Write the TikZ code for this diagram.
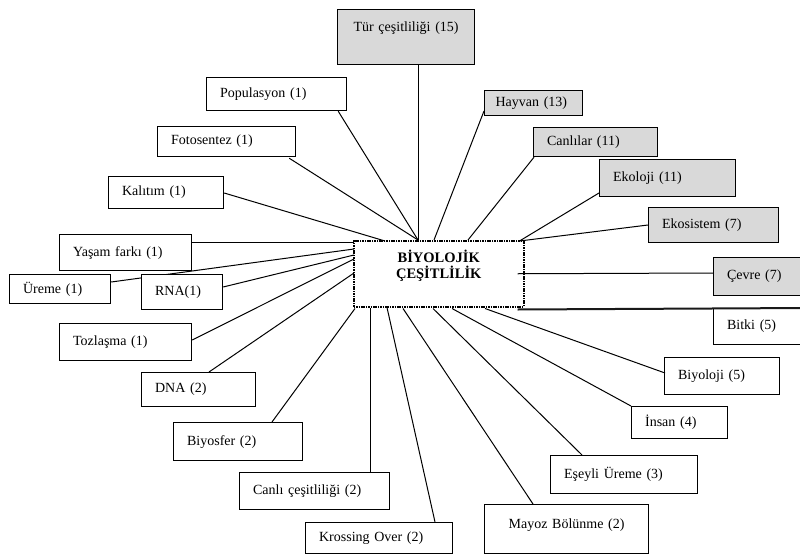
\documentclass[tikz,border=0pt]{standalone}
\usepackage{fontspec}
\setmainfont{Liberation Serif}
\usetikzlibrary{calc}
\definecolor{boxgray}{RGB}{217,217,217}
\begin{document}
\begin{tikzpicture}[x=1pt,y=-1pt,
  box/.style={draw, line width=1.2pt, fill=white, anchor=north west,
    inner xsep=13.5pt, inner ysep=0pt, align=left,
    font=\fontsize{14}{16}\selectfont},
  gbox/.style={box, fill=boxgray},
  link/.style={line width=1pt},
  hub/.style={draw, line width=1.5pt, dash pattern=on 1.6pt off 0.8pt,
    fill=white, anchor=north west, inner sep=0pt,
    minimum width=170pt, minimum height=66pt}]
\useasboundingbox (0,0) rectangle (800,554);

% central box
\node[hub] (bio) at (353,240) {};
\node[font=\fontsize{14.5}{16}\selectfont\bfseries, align=center] (biotxt)
  at ($(bio.center)+(0,-8)$) {BİYOLOJİK\\ÇEŞİTLİLİK};

% boxes
\node[gbox, align=center, inner xsep=5pt, text width=127pt,
      text height=10pt, text depth=21pt, inner ysep=12pt] (tur) at (337,9) {Tür çeşitliliği (15)};
\node[box, text width=113pt, minimum height=33pt] (pop) at (206,77) {Populasyon (1)};
\node[box, text width=111pt, minimum height=30pt] (foto) at (157,126) {Fotosentez (1)};
\node[box, text width=88pt, minimum height=32pt] (kal) at (108,176) {Kalıtım (1)};
\node[box, text width=105pt, minimum height=36pt] (yasam) at (59,234) {Yaşam farkı (1)};
\node[box, text width=74pt, minimum height=29pt] (ureme) at (9,274) {Üreme (1)};
\node[box, text width=105pt, minimum height=37pt] (toz) at (59,323) {Tozlaşma (1)};
\node[box, text width=87pt, minimum height=34pt] (dna) at (141,372) {DNA (2)};
\node[box, text width=102pt, minimum height=38pt] (biyosfer) at (173,422) {Biyosfer (2)};
\node[box, text width=123pt, minimum height=37pt] (canli) at (239,472) {Canlı çeşitliliği (2)};
\node[box, text width=120pt, minimum height=31pt] (kross) at (305,522) {Krossing Over (2)};
\node[box, align=center, inner xsep=5pt, text width=154pt,
      text height=10pt, text depth=11pt, inner ysep=14pt] (mayoz) at (484,504) {Mayoz Bölünme (2)};
\node[box, text width=120pt, minimum height=38pt] (esey) at (550,455) {Eşeyli Üreme (3)};
\node[box, text width=69pt, minimum height=32pt] (insan) at (631,406) {İnsan (4)};
\node[box, text width=88pt, minimum height=37pt] (biyoloji) at (664,357) {Biyoloji (5)};
\node[box, text width=80pt, minimum height=36pt] (bitki) at (713,308) {Bitki (5)};
\node[gbox, text width=80pt, minimum height=38pt] (cevre) at (713,257) {Çevre (7)};
\node[gbox, text width=103pt, minimum height=35pt] (ekosistem) at (648,207) {Ekosistem (7)};
\node[gbox, text width=109pt, minimum height=37pt] (ekoloji) at (599,159) {Ekoloji (11)};
\node[gbox, text width=97pt, minimum height=29pt] (canlilar) at (533,127) {Canlılar (11)};
\node[gbox, inner xsep=11pt, text width=76pt, minimum height=25pt] (hayvan) at (484,90) {Hayvan (13)};

% links
\draw[link] ($(tur.south west)+(81,0)$) -- ($(bio.north west)+(65,0)$);
\draw[link] ($(pop.south east)+(-9,0)$) -- ($(bio.north west)+(65,0)$);
\draw[link] ($(foto.south east)+(-7,1)$) -- ($(bio.north west)+(65,0)$);
\draw[link] ($(kal.north east)+(0,17)$) -- ($(bio.north west)+(32,1)$);
\draw[link] ($(yasam.north east)+(0,8)$) -- ($(bio.north west)+(1,2)$);
\draw[link] ($(ureme.north east)+(0,8)$) -- ($(bio.north west)+(1,9)$);
\draw[link] ($(toz.north east)+(0,17)$) -- ($(bio.north west)+(1,19)$);
\draw[link] ($(dna.north west)+(68,0)$) -- ($(bio.north west)+(1,33)$);
\draw[link] ($(biyosfer.north west)+(99,0)$) -- ($(bio.south west)+(2,1)$);
\draw[link] ($(canli.north west)+(131,0)$) -- ($(bio.south west)+(17,0)$);
\draw[link] ($(kross.north west)+(130,0)$) -- ($(bio.south west)+(34,0)$);
\draw[link] ($(mayoz.north west)+(49,0)$) -- ($(bio.south west)+(50,1)$);
\draw[link] ($(esey.north west)+(32,0)$) -- ($(bio.south west)+(80,1)$);
\draw[link] (insan.north west) -- ($(bio.south west)+(99,1)$);
\draw[link] ($(biyoloji.north west)+(1,16)$) -- ($(bio.south west)+(132,1)$);
\draw[line width=2pt, black!90] ($(bio.south east)+(-7,2)$) -- ($(bitki.north west)+(95,0)$);
\draw[link] ($(bio.east)+(-7,0)$) -- ($(cevre.north west)+(0,16)$);
\draw[link] ($(ekosistem.north west)+(0,18)$) -- ($(bio.north east)+(-5,1)$);
\draw[link] ($(ekoloji.north west)+(0,34)$) -- ($(bio.north east)+(-5,1)$);
\draw[link] ($(canlilar.south west)+(1,0)$) -- ($(bio.north west)+(115,0)$);
\draw[link] ($(hayvan.north west)+(0,21)$) -- ($(bio.north west)+(81,0)$);

% RNA box drawn last so it hides the Üreme link where they overlap
\node[box, text width=54pt, minimum height=35pt] (rna) at (141,274) {RNA(1)};
\draw[link] ($(rna.north east)+(0,13)$) -- ($(bio.north west)+(1,15)$);
\end{tikzpicture}
\end{document}
